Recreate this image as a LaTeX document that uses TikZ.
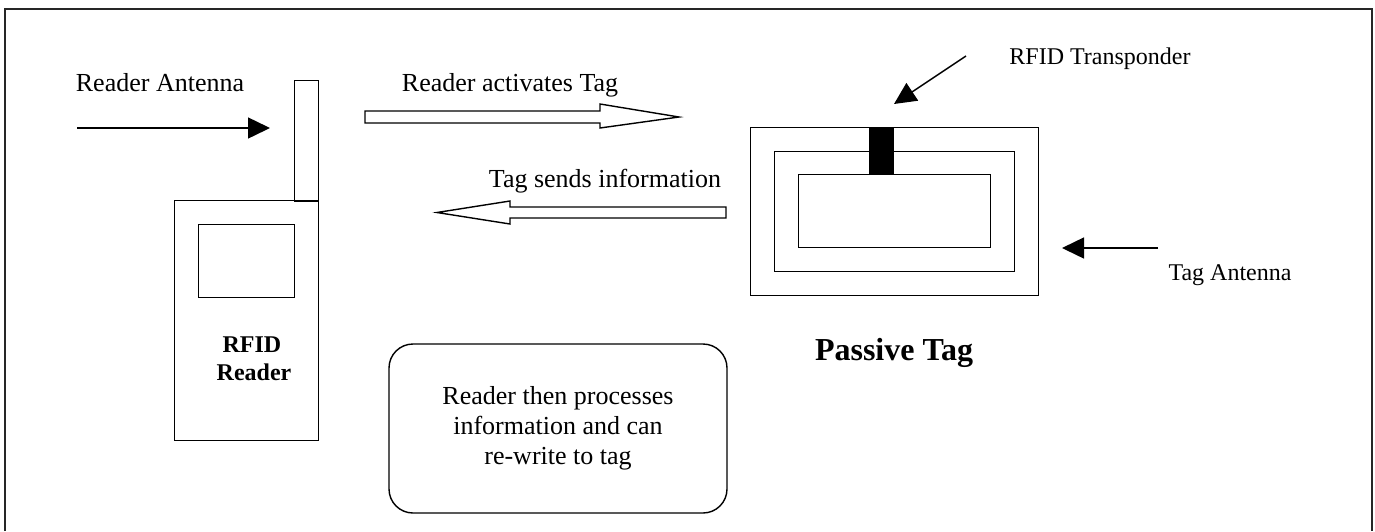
\documentclass[tikz,border=0pt]{standalone}
\usepackage{fontspec}
\setmainfont{Liberation Serif}
\usetikzlibrary{arrows.meta}

\tikzset{
  lbl/.style={inner sep=0pt, anchor=base, font=\fontsize{26}{30}\selectfont},
  smalllbl/.style={inner sep=0pt, anchor=base, font=\fontsize{24}{28}\selectfont},
  boxpart/.style={draw, line width=1.4pt, inner sep=0pt, anchor=north west},
  pointer/.style={line width=1.5pt, -{Triangle[length=22pt,width=21pt]}},
  hollowarrow/.style={draw, line width=1.4pt, fill=white},
}

\begin{document}
\begin{tikzpicture}[x=1pt, y=-1pt]
  \useasboundingbox (0,0) rectangle (1375,531);

  % outer frame, open at the bottom
  \draw[line width=2pt, black!85] (5,531) -- (5,9) -- (1372,9) -- (1372,531);

  % ---- reader ----
  \node[boxpart, minimum width=24pt, minimum height=121pt] (antenna) at (294,80) {};
  \node[boxpart, minimum width=144pt, minimum height=240pt] (body) at (174,200) {};
  \node[boxpart, minimum width=96pt, minimum height=73pt] (screen) at (198,224) {};
  \node[inner sep=0pt, anchor=base, font=\bfseries\fontsize{24}{28}\selectfont] (rfid) at (252,352) {RFID};
  \node[inner sep=0pt, anchor=base, font=\bfseries\fontsize{24}{28}\selectfont] (readerlbl) at (254,380) {Reader};

  \node[lbl] (readerant) at (160,91) {Reader Antenna};
  \coordinate (raStart) at (77,128);
  \coordinate (raEnd) at (270,128);
  \draw[pointer] (raStart) -- (raEnd);

  % ---- signal arrows ----
  \node[lbl] (activates) at (510,91) {Reader activates Tag};
  \draw[hollowarrow] (365,111) -- (600,111) -- (600,104) -- (679,117)
        -- (600,128) -- (600,123) -- (365,123) -- cycle;

  \node[lbl] (sends) at (605,187) {Tag sends information};
  \draw[hollowarrow] (726,207) -- (510,207) -- (510,201) -- (437,212.5)
        -- (510,224) -- (510,218) -- (726,218) -- cycle;

  % ---- passive tag ----
  \node[boxpart, minimum width=288pt, minimum height=168pt] (outerloop) at (750,127) {};
  \node[boxpart, minimum width=240pt, minimum height=120pt] (midloop) at (774,151) {};
  \node[boxpart, minimum width=192pt, minimum height=73pt] (innerloop) at (798,174) {};
  \node[fill=black, inner sep=0pt, anchor=north west, minimum width=25pt, minimum height=48pt] (chip) at (869,127) {};

  \node[smalllbl] (transp) at (1100,64) {RFID Transponder};
  \coordinate (trStart) at (966,56);
  \coordinate (trEnd) at (894,104);
  \draw[pointer] (trStart) -- (trEnd);

  \node[smalllbl] (tagant) at (1230,280) {Tag Antenna};
  \coordinate (taStart) at (1158,248);
  \coordinate (taEnd) at (1062,248);
  \draw[pointer] (taStart) -- (taEnd);

  \node[inner sep=0pt, anchor=base, font=\bfseries\fontsize{32}{36}\selectfont] (passive) at (894,360) {Passive Tag};

  % ---- processing note ----
  \node[draw, line width=1.4pt, rounded corners=24pt, minimum width=338pt, minimum height=169pt,
        align=center, inner sep=0pt, font=\fontsize{26}{30}\selectfont] (note) at (558,428.5)
        {Reader then processes\\information and can\\re-write to tag};
\end{tikzpicture}
\end{document}
